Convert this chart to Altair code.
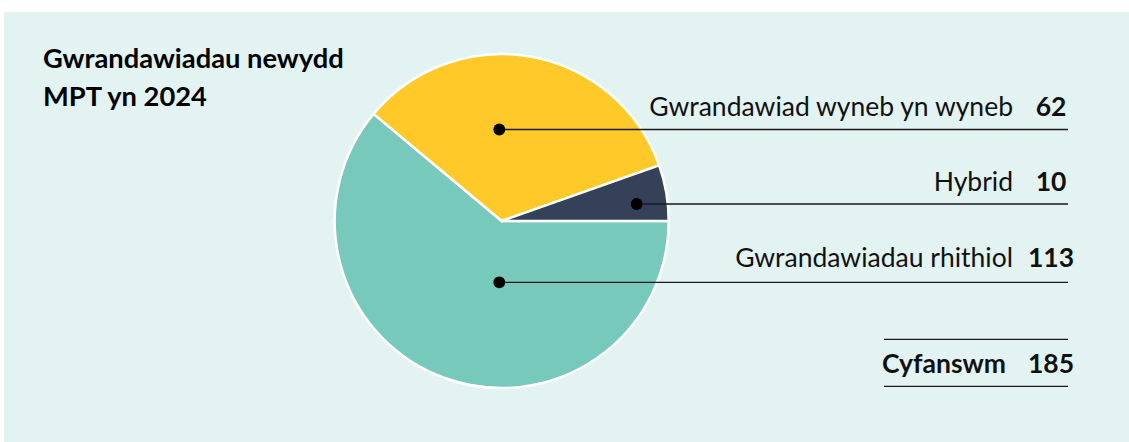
import math
import altair as alt
import pandas as pd

categories = ["Gwrandawiadau rhithiol", "Gwrandawiad wyneb yn wyneb", "Hybrid"]
values = [113, 62, 10]
colors = ["#77c9bc", "#ffc92a", "#344158"]
total_label = "Cyfanswm"
title_lines = ["Gwrandawiadau newydd", "MPT yn 2024"]

df = pd.DataFrame({"category": categories, "value": values,
                   "order": list(range(len(categories)))})

W, H = 1125, 430
FONT = "Lato"
FS = 26.5
CX, CY, R = 497.7, 209, 167

base = alt.Chart(df)

pie = base.mark_arc(radius=R, stroke="white", strokeWidth=2.5).encode(
    theta=alt.Theta("value:Q", stack=True,
                    scale=alt.Scale(range=[math.pi / 2, math.pi / 2 + 2 * math.pi])),
    color=alt.Color("category:N", scale=alt.Scale(domain=categories, range=colors),
                    legend=None),
    order=alt.Order("order:Q"),
    x=alt.value(CX), y=alt.value(CY),
)

# label layout: (dot x, line y, text baseline y)
layout = {
    "Gwrandawiad wyneb yn wyneb": (495.3, 117.5, 103.7),
    "Hybrid": (632.7, 192, 178.7),
    "Gwrandawiadau rhithiol": (495.3, 270.3, 255.3),
}
LINE_END = 1064
LABEL_RIGHT = 1009
VALUE_CENTER = 1047

layers = [pie]
for cat in categories:
    dx, ly, ty = layout[cat]
    sub = base.transform_filter(alt.datum.category == cat)
    layers.append(sub.mark_rule(color="#1a1a1a", strokeWidth=1.3).encode(
        x=alt.value(dx), x2=alt.value(LINE_END), y=alt.value(ly)))
    layers.append(sub.mark_point(filled=True, color="black", size=140, opacity=1).encode(
        x=alt.value(dx), y=alt.value(ly)))
    layers.append(sub.mark_text(font=FONT, fontSize=FS, align="right", baseline="alphabetic",
                                color="#111111").encode(
        text="category:N", x=alt.value(LABEL_RIGHT), y=alt.value(ty)))
    layers.append(sub.mark_text(font=FONT, fontSize=FS, fontWeight="bold", align="center",
                                baseline="alphabetic", color="#111111").encode(
        text="value:Q", x=alt.value(VALUE_CENTER), y=alt.value(ty)))

# total
tot = base.transform_aggregate(total="sum(value)")
layers.append(tot.mark_rule(color="#1a1a1a", strokeWidth=1.3).encode(
    x=alt.value(880), x2=alt.value(LINE_END), y=alt.value(327.3)))
layers.append(tot.mark_rule(color="#1a1a1a", strokeWidth=1.3).encode(
    x=alt.value(880), x2=alt.value(LINE_END), y=alt.value(374.3)))
layers.append(tot.mark_text(font=FONT, fontSize=FS, fontWeight="bold", align="right",
                            baseline="alphabetic", color="#111111", text=total_label).encode(
    x=alt.value(1002), y=alt.value(360.7)))
layers.append(tot.mark_text(font=FONT, fontSize=FS, fontWeight="bold", align="center",
                            baseline="alphabetic", color="#111111").encode(
    text="total:Q", x=alt.value(VALUE_CENTER), y=alt.value(360.7)))

# title
title_df = pd.DataFrame({"line": title_lines})
for i, (line, ty) in enumerate(zip(title_lines, [56, 94])):
    layers.append(alt.Chart(title_df).transform_filter(alt.datum.line == line).mark_text(
        font=FONT, fontSize=27.3, fontWeight="bold", align="left", baseline="alphabetic",
        color="#000000").encode(text="line:N", x=alt.value(39), y=alt.value(ty)))

chart = alt.layer(*layers).properties(
    width=W, height=H,
    background="white",
    padding={"left": 4, "top": 12, "right": 0, "bottom": 0},
    autosize=alt.AutoSizeParams(type="none"),
).configure_view(fill="#e3f3f1", stroke=None)

chart.save("out.html", embed_options={"renderer": "svg", "actions": False})
